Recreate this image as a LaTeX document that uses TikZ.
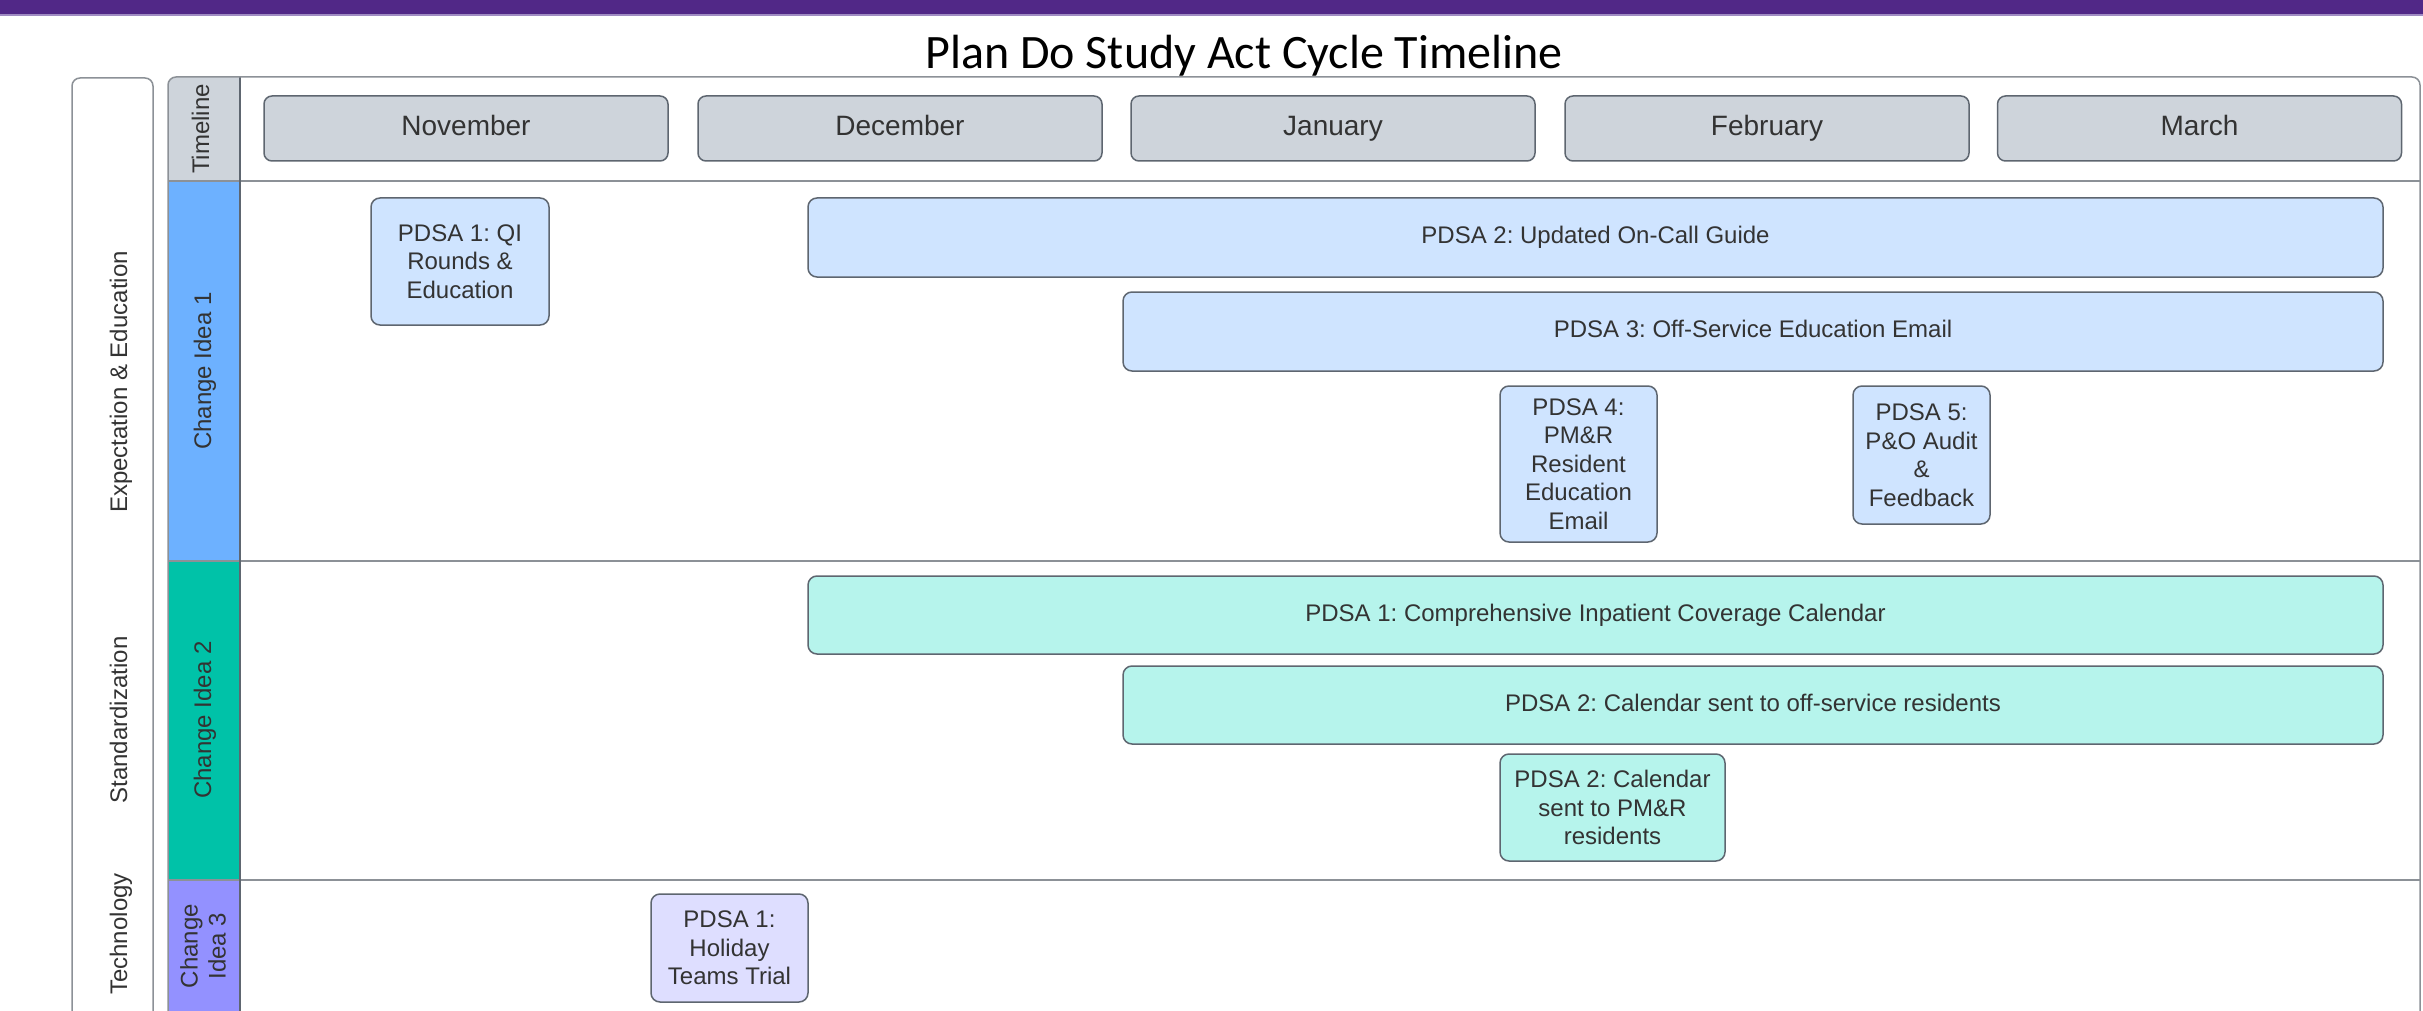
\documentclass[tikz,border=0pt]{standalone}
\usepackage{fontspec}
\setmainfont{Liberation Sans}
\newfontfamily\titlefont{Carlito}
\frenchspacing
\definecolor{bandpurple}{RGB}{81,40,135}
\definecolor{bandlight}{RGB}{160,140,195}
\definecolor{txt}{HTML}{333333}
\definecolor{boxline}{HTML}{5E6670}
\definecolor{frameline}{HTML}{8C9197}
\definecolor{monthfill}{HTML}{CED4DB}
\definecolor{laneA}{HTML}{6DB1FF}
\definecolor{laneB}{HTML}{00C2A8}
\definecolor{laneC}{HTML}{9391FF}
\definecolor{fillA}{HTML}{CFE4FF}
\definecolor{fillB}{HTML}{B6F4EC}
\definecolor{fillC}{HTML}{DEDEFF}
\tikzset{
  monthbox/.style={draw=boxline, fill=monthfill, rounded corners=8pt, line width=1.5pt,
    minimum height=65pt, minimum width=404pt, inner sep=0pt,
    text height=20pt, text depth=6pt,
    font=\fontsize{28}{33}\selectfont, text=txt},
  pdsabox/.style={draw=boxline, rounded corners=9pt, line width=1.5pt, inner sep=0pt,
    align=center, font=\fontsize{24}{28.5}\selectfont, text=txt},
  oneline/.style={text height=17pt, text depth=5pt},
  lanelabel/.style={rotate=90, inner sep=0pt, align=center,
    font=\fontsize{24}{28}\selectfont, text=txt},
  catlabel/.style={rotate=90, inner sep=0pt, anchor=base,
    font=\fontsize{24}{28}\selectfont, text=txt},
  frame/.style={draw=frameline, line width=1.5pt},
}
\begin{document}
\begin{tikzpicture}[x=1pt,y=-1pt]
\useasboundingbox (0,0) rectangle (2423,1011);
\fill[white] (0,0) rectangle (2423,1011);
% top band
\fill[bandpurple] (0,0) rectangle (2423,14);
\draw[bandlight, line width=2pt] (0,15) -- (2423,15);
% title
\node[anchor=base, inner sep=0pt, font=\titlefont\fontsize{48}{54}\selectfont] (title) at (1244,69) {Plan Do Study Act Cycle Timeline};
% outer category box
\draw[frame, rounded corners=8pt] (72,78) rectangle (153,1040);
% lane header fills
\begin{scope}
  \clip[rounded corners=8pt] (168,77) rectangle (2420,1040);
  \fill[monthfill] (168,77) rectangle (240,181);
  \fill[laneA] (168,181) rectangle (240,561);
  \fill[laneB] (168,561) rectangle (240,880);
  \fill[laneC] (168,880) rectangle (240,1040);
\end{scope}
% separators
\draw[frame] (168,181) -- (2420,181);
\draw[frame] (168,561) -- (2420,561);
\draw[frame] (168,880) -- (2420,880);
\draw[boxline, line width=1.5pt] (240,77) -- (240,1040);
\draw[frame, rounded corners=8pt] (168,77) rectangle (2420,1040);
% lane labels
\node[lanelabel, anchor=base] (tl) at (209,129) {Timeline};
\node[lanelabel, anchor=base] (ci1) at (211,371) {Change Idea 1};
\node[lanelabel, anchor=base] (ci2) at (211,720) {Change Idea 2};
\node[lanelabel] (ci3) at (203,946) {Change\\Idea 3};
% category labels
\node[catlabel] (cat1) at (127,382) {Expectation \& Education};
\node[catlabel] (cat2) at (127,720) {Standardization};
\node[catlabel] (cat3) at (127,934) {Technology};
% months
\node[monthbox] (nov) at (466,128.5) {November};
\node[monthbox] (dec) at (900,128.5) {December};
\node[monthbox] (jan) at (1333,128.5) {January};
\node[monthbox] (feb) at (1767,128.5) {February};
\node[monthbox] (mar) at (2199.5,128.5) {March};
% lane 1
\node[pdsabox, fill=fillA, minimum width=178pt, minimum height=127pt] (a1) at (460,261.5) {PDSA 1: QI\\Rounds \&\\Education};
\node[pdsabox, oneline, fill=fillA, minimum width=1575pt, minimum height=79pt] (a2) at (1595.5,237.5) {PDSA 2: Updated On-Call Guide};
\node[pdsabox, oneline, fill=fillA, minimum width=1260pt, minimum height=79pt] (a3) at (1753,331.5) {PDSA 3: Off-Service Education Email};
\node[pdsabox, fill=fillA, minimum width=157pt, minimum height=156pt] (a4) at (1578.5,464) {PDSA 4:\\PM\&R\\Resident\\Education\\Email};
\node[pdsabox, fill=fillA, minimum width=137pt, minimum height=138pt] (a5) at (1921.5,455) {PDSA 5:\\P\&O Audit\\\&\\Feedback};
% lane 2
\node[pdsabox, oneline, fill=fillB, minimum width=1575pt, minimum height=78pt] (b1) at (1595.5,615) {PDSA 1: Comprehensive Inpatient Coverage Calendar};
\node[pdsabox, oneline, fill=fillB, minimum width=1260pt, minimum height=78pt] (b2) at (1753,705) {PDSA 2: Calendar sent to off-service residents};
\node[pdsabox, fill=fillB, minimum width=225pt, minimum height=107pt] (b3) at (1612.5,807.5) {PDSA 2: Calendar\\sent to PM\&R\\residents};
% lane 3
\node[pdsabox, fill=fillC, minimum width=157pt, minimum height=108pt] (c1) at (729.5,948) {PDSA 1:\\Holiday\\Teams Trial};
\end{tikzpicture}
\end{document}
